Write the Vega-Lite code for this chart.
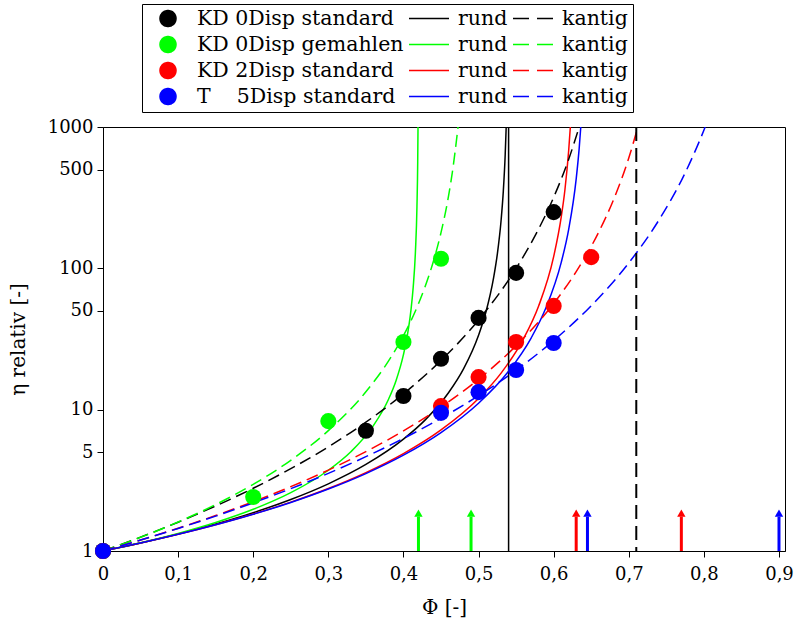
{
 "$schema": "https://vega.github.io/schema/vega-lite/v6.json",
 "width": 682, "height": 424,
 "autosize": {"type": "none"},
 "padding": {"left": 103, "top": 127, "right": 17, "bottom": 73},
 "background": "white",
 "config": {"view": {"stroke": "black", "strokeWidth": 1}, "font": "DejaVu Serif"},
 "datasets": {
  "pts": [
   {"s":"KD 0Disp standard","phi":0,"eta":1},{"s":"KD 0Disp standard","phi":0.35,"eta":7.1},{"s":"KD 0Disp standard","phi":0.4,"eta":12.5},{"s":"KD 0Disp standard","phi":0.45,"eta":22.9},{"s":"KD 0Disp standard","phi":0.5,"eta":44.6},{"s":"KD 0Disp standard","phi":0.55,"eta":92.8},{"s":"KD 0Disp standard","phi":0.6,"eta":250},
   {"s":"KD 0Disp gemahlen","phi":0,"eta":1},{"s":"KD 0Disp gemahlen","phi":0.2,"eta":2.41},{"s":"KD 0Disp gemahlen","phi":0.3,"eta":8.3},{"s":"KD 0Disp gemahlen","phi":0.4,"eta":30.1},{"s":"KD 0Disp gemahlen","phi":0.45,"eta":117},
   {"s":"KD 2Disp standard","phi":0,"eta":1},{"s":"KD 2Disp standard","phi":0.45,"eta":10.6},{"s":"KD 2Disp standard","phi":0.5,"eta":17.0},{"s":"KD 2Disp standard","phi":0.55,"eta":30.1},{"s":"KD 2Disp standard","phi":0.6,"eta":54.2},{"s":"KD 2Disp standard","phi":0.65,"eta":120},
   {"s":"T\u00a0\u00a0\u00a0\u00a05Disp standard","phi":0,"eta":1},{"s":"T\u00a0\u00a0\u00a0\u00a05Disp standard","phi":0.45,"eta":9.5},{"s":"T\u00a0\u00a0\u00a0\u00a05Disp standard","phi":0.5,"eta":13.3},{"s":"T\u00a0\u00a0\u00a0\u00a05Disp standard","phi":0.55,"eta":19.1},{"s":"T\u00a0\u00a0\u00a0\u00a05Disp standard","phi":0.6,"eta":29.6}
  ],
  "rund": [
   {"s":"KD 0Disp standard rund","phi":0,"eta":1},{"s":"KD 0Disp standard rund","phi":0.05,"eta":1.140},{"s":"KD 0Disp standard rund","phi":0.1,"eta":1.319},{"s":"KD 0Disp standard rund","phi":0.15,"eta":1.552},{"s":"KD 0Disp standard rund","phi":0.2,"eta":1.867},{"s":"KD 0Disp standard rund","phi":0.25,"eta":2.315},{"s":"KD 0Disp standard rund","phi":0.3,"eta":2.988},{"s":"KD 0Disp standard rund","phi":0.35,"eta":4.096},{"s":"KD 0Disp standard rund","phi":0.4,"eta":6.187},{"s":"KD 0Disp standard rund","phi":0.43,"eta":8.57},{"s":"KD 0Disp standard rund","phi":0.46,"eta":13.17},{"s":"KD 0Disp standard rund","phi":0.48,"eta":19.42},{"s":"KD 0Disp standard rund","phi":0.5,"eta":33.6},{"s":"KD 0Disp standard rund","phi":0.51,"eta":49.5},{"s":"KD 0Disp standard rund","phi":0.52,"eta":85.6},{"s":"KD 0Disp standard rund","phi":0.525,"eta":126.2},{"s":"KD 0Disp standard rund","phi":0.53,"eta":218},{"s":"KD 0Disp standard rund","phi":0.533,"eta":353},{"s":"KD 0Disp standard rund","phi":0.5355,"eta":641},{"s":"KD 0Disp standard rund","phi":0.5368,"eta":1000},
   {"s":"KD 0Disp gemahlen rund","phi":0,"eta":1},{"s":"KD 0Disp gemahlen rund","phi":0.05,"eta":1.142},{"s":"KD 0Disp gemahlen rund","phi":0.1,"eta":1.330},{"s":"KD 0Disp gemahlen rund","phi":0.15,"eta":1.590},{"s":"KD 0Disp gemahlen rund","phi":0.2,"eta":1.972},{"s":"KD 0Disp gemahlen rund","phi":0.25,"eta":2.585},{"s":"KD 0Disp gemahlen rund","phi":0.3,"eta":3.726},{"s":"KD 0Disp gemahlen rund","phi":0.33,"eta":5.04},{"s":"KD 0Disp gemahlen rund","phi":0.36,"eta":7.71},{"s":"KD 0Disp gemahlen rund","phi":0.38,"eta":11.81},{"s":"KD 0Disp gemahlen rund","phi":0.39,"eta":15.97},{"s":"KD 0Disp gemahlen rund","phi":0.4,"eta":24.5},{"s":"KD 0Disp gemahlen rund","phi":0.405,"eta":33.1},{"s":"KD 0Disp gemahlen rund","phi":0.41,"eta":50.6},{"s":"KD 0Disp gemahlen rund","phi":0.413,"eta":73.6},{"s":"KD 0Disp gemahlen rund","phi":0.416,"eta":132.6},{"s":"KD 0Disp gemahlen rund","phi":0.418,"eta":274},{"s":"KD 0Disp gemahlen rund","phi":0.419,"eta":568},{"s":"KD 0Disp gemahlen rund","phi":0.4194,"eta":1000},
   {"s":"KD 2Disp standard rund","phi":0,"eta":1},{"s":"KD 2Disp standard rund","phi":0.05,"eta":1.139},{"s":"KD 2Disp standard rund","phi":0.1,"eta":1.313},{"s":"KD 2Disp standard rund","phi":0.15,"eta":1.535},{"s":"KD 2Disp standard rund","phi":0.2,"eta":1.825},{"s":"KD 2Disp standard rund","phi":0.25,"eta":2.217},{"s":"KD 2Disp standard rund","phi":0.3,"eta":2.769},{"s":"KD 2Disp standard rund","phi":0.35,"eta":3.587},{"s":"KD 2Disp standard rund","phi":0.4,"eta":4.889},{"s":"KD 2Disp standard rund","phi":0.45,"eta":7.193},{"s":"KD 2Disp standard rund","phi":0.5,"eta":12.01},{"s":"KD 2Disp standard rund","phi":0.53,"eta":18.15},{"s":"KD 2Disp standard rund","phi":0.56,"eta":31.84},{"s":"KD 2Disp standard rund","phi":0.58,"eta":54.1},{"s":"KD 2Disp standard rund","phi":0.6,"eta":120.9},{"s":"KD 2Disp standard rund","phi":0.61,"eta":229},{"s":"KD 2Disp standard rund","phi":0.615,"eta":360},{"s":"KD 2Disp standard rund","phi":0.62,"eta":682},{"s":"KD 2Disp standard rund","phi":0.6222,"eta":1000},
   {"s":"T\u00a0\u00a0\u00a0\u00a05Disp standard rund","phi":0,"eta":1},{"s":"T\u00a0\u00a0\u00a0\u00a05Disp standard rund","phi":0.05,"eta":1.139},{"s":"T\u00a0\u00a0\u00a0\u00a05Disp standard rund","phi":0.1,"eta":1.312},{"s":"T\u00a0\u00a0\u00a0\u00a05Disp standard rund","phi":0.15,"eta":1.532},{"s":"T\u00a0\u00a0\u00a0\u00a05Disp standard rund","phi":0.2,"eta":1.819},{"s":"T\u00a0\u00a0\u00a0\u00a05Disp standard rund","phi":0.25,"eta":2.205},{"s":"T\u00a0\u00a0\u00a0\u00a05Disp standard rund","phi":0.3,"eta":2.743},{"s":"T\u00a0\u00a0\u00a0\u00a05Disp standard rund","phi":0.35,"eta":3.530},{"s":"T\u00a0\u00a0\u00a0\u00a05Disp standard rund","phi":0.4,"eta":4.763},{"s":"T\u00a0\u00a0\u00a0\u00a05Disp standard rund","phi":0.45,"eta":6.882},{"s":"T\u00a0\u00a0\u00a0\u00a05Disp standard rund","phi":0.5,"eta":11.10},{"s":"T\u00a0\u00a0\u00a0\u00a05Disp standard rund","phi":0.54,"eta":18.68},{"s":"T\u00a0\u00a0\u00a0\u00a05Disp standard rund","phi":0.57,"eta":32.13},{"s":"T\u00a0\u00a0\u00a0\u00a05Disp standard rund","phi":0.59,"eta":52.98},{"s":"T\u00a0\u00a0\u00a0\u00a05Disp standard rund","phi":0.61,"eta":109.8},{"s":"T\u00a0\u00a0\u00a0\u00a05Disp standard rund","phi":0.62,"eta":188.9},{"s":"T\u00a0\u00a0\u00a0\u00a05Disp standard rund","phi":0.63,"eta":430},{"s":"T\u00a0\u00a0\u00a0\u00a05Disp standard rund","phi":0.634,"eta":709},{"s":"T\u00a0\u00a0\u00a0\u00a05Disp standard rund","phi":0.6361,"eta":1000}
  ],
  "kantig": [
   {"s":"KD 0Disp standard kantig","phi":0,"eta":1},{"s":"KD 0Disp standard kantig","phi":0.05,"eta":1.253},{"s":"KD 0Disp standard kantig","phi":0.1,"eta":1.599},{"s":"KD 0Disp standard kantig","phi":0.15,"eta":2.082},{"s":"KD 0Disp standard kantig","phi":0.2,"eta":2.779},{"s":"KD 0Disp standard kantig","phi":0.25,"eta":3.823},{"s":"KD 0Disp standard kantig","phi":0.3,"eta":5.456},{"s":"KD 0Disp standard kantig","phi":0.35,"eta":8.155},{"s":"KD 0Disp standard kantig","phi":0.4,"eta":12.94},{"s":"KD 0Disp standard kantig","phi":0.45,"eta":22.29},{"s":"KD 0Disp standard kantig","phi":0.5,"eta":43.1},{"s":"KD 0Disp standard kantig","phi":0.55,"eta":99.9},{"s":"KD 0Disp standard kantig","phi":0.58,"eta":190},{"s":"KD 0Disp standard kantig","phi":0.6,"eta":318},{"s":"KD 0Disp standard kantig","phi":0.62,"eta":591},{"s":"KD 0Disp standard kantig","phi":0.634,"eta":1000},
   {"s":"KD 0Disp gemahlen kantig","phi":0,"eta":1},{"s":"KD 0Disp gemahlen kantig","phi":0.05,"eta":1.250},{"s":"KD 0Disp gemahlen kantig","phi":0.1,"eta":1.604},{"s":"KD 0Disp gemahlen kantig","phi":0.15,"eta":2.131},{"s":"KD 0Disp gemahlen kantig","phi":0.2,"eta":2.962},{"s":"KD 0Disp gemahlen kantig","phi":0.25,"eta":4.382},{"s":"KD 0Disp gemahlen kantig","phi":0.3,"eta":7.107},{"s":"KD 0Disp gemahlen kantig","phi":0.35,"eta":13.37},{"s":"KD 0Disp gemahlen kantig","phi":0.38,"eta":22.03},{"s":"KD 0Disp gemahlen kantig","phi":0.4,"eta":33.4},{"s":"KD 0Disp gemahlen kantig","phi":0.42,"eta":56.2},{"s":"KD 0Disp gemahlen kantig","phi":0.44,"eta":112.7},{"s":"KD 0Disp gemahlen kantig","phi":0.45,"eta":178.8},{"s":"KD 0Disp gemahlen kantig","phi":0.46,"eta":324},{"s":"KD 0Disp gemahlen kantig","phi":0.465,"eta":473},{"s":"KD 0Disp gemahlen kantig","phi":0.4727,"eta":1000},
   {"s":"KD 2Disp standard kantig","phi":0,"eta":1},{"s":"KD 2Disp standard kantig","phi":0.05,"eta":1.196},{"s":"KD 2Disp standard kantig","phi":0.1,"eta":1.450},{"s":"KD 2Disp standard kantig","phi":0.15,"eta":1.783},{"s":"KD 2Disp standard kantig","phi":0.2,"eta":2.232},{"s":"KD 2Disp standard kantig","phi":0.25,"eta":2.852},{"s":"KD 2Disp standard kantig","phi":0.3,"eta":3.736},{"s":"KD 2Disp standard kantig","phi":0.35,"eta":5.045},{"s":"KD 2Disp standard kantig","phi":0.4,"eta":7.077},{"s":"KD 2Disp standard kantig","phi":0.45,"eta":10.43},{"s":"KD 2Disp standard kantig","phi":0.5,"eta":16.41},{"s":"KD 2Disp standard kantig","phi":0.55,"eta":28.36},{"s":"KD 2Disp standard kantig","phi":0.6,"eta":56.4},{"s":"KD 2Disp standard kantig","phi":0.63,"eta":94.8},{"s":"KD 2Disp standard kantig","phi":0.66,"eta":180.5},{"s":"KD 2Disp standard kantig","phi":0.68,"eta":308.6},{"s":"KD 2Disp standard kantig","phi":0.7,"eta":603},{"s":"KD 2Disp standard kantig","phi":0.7121,"eta":1000},
   {"s":"T\u00a0\u00a0\u00a0\u00a05Disp standard kantig","phi":0,"eta":1},{"s":"T\u00a0\u00a0\u00a0\u00a05Disp standard kantig","phi":0.05,"eta":1.195},{"s":"T\u00a0\u00a0\u00a0\u00a05Disp standard kantig","phi":0.1,"eta":1.444},{"s":"T\u00a0\u00a0\u00a0\u00a05Disp standard kantig","phi":0.15,"eta":1.766},{"s":"T\u00a0\u00a0\u00a0\u00a05Disp standard kantig","phi":0.2,"eta":2.191},{"s":"T\u00a0\u00a0\u00a0\u00a05Disp standard kantig","phi":0.25,"eta":2.760},{"s":"T\u00a0\u00a0\u00a0\u00a05Disp standard kantig","phi":0.3,"eta":3.543},{"s":"T\u00a0\u00a0\u00a0\u00a05Disp standard kantig","phi":0.35,"eta":4.649},{"s":"T\u00a0\u00a0\u00a0\u00a05Disp standard kantig","phi":0.4,"eta":6.258},{"s":"T\u00a0\u00a0\u00a0\u00a05Disp standard kantig","phi":0.45,"eta":8.694},{"s":"T\u00a0\u00a0\u00a0\u00a05Disp standard kantig","phi":0.5,"eta":12.55},{"s":"T\u00a0\u00a0\u00a0\u00a05Disp standard kantig","phi":0.55,"eta":19.04},{"s":"T\u00a0\u00a0\u00a0\u00a05Disp standard kantig","phi":0.6,"eta":30.81},{"s":"T\u00a0\u00a0\u00a0\u00a05Disp standard kantig","phi":0.65,"eta":54.4},{"s":"T\u00a0\u00a0\u00a0\u00a05Disp standard kantig","phi":0.7,"eta":109.1},{"s":"T\u00a0\u00a0\u00a0\u00a05Disp standard kantig","phi":0.74,"eta":219},{"s":"T\u00a0\u00a0\u00a0\u00a05Disp standard kantig","phi":0.77,"eta":418},{"s":"T\u00a0\u00a0\u00a0\u00a05Disp standard kantig","phi":0.8,"eta":949},{"s":"T\u00a0\u00a0\u00a0\u00a05Disp standard kantig","phi":0.8017,"eta":1000}
  ],
  "arrows": [
   {"s":"KD 0Disp gemahlen","phi":0.42},{"s":"KD 0Disp gemahlen","phi":0.49},
   {"s":"KD 2Disp standard","phi":0.63},{"s":"KD 2Disp standard","phi":0.77},
   {"s":"T\u00a0\u00a0\u00a0\u00a05Disp standard","phi":0.645},{"s":"T\u00a0\u00a0\u00a0\u00a05Disp standard","phi":0.9}
  ],
  "vsolid": [{"s":"KD 0Disp standard rund","phi":0.54}],
  "vdash": [{"s":"KD 0Disp standard kantig","phi":0.71}]
 },
 "layer": [
  {
   "data": {"name": "rund"},
   "mark": {"type": "line", "strokeWidth": 1.5, "interpolate": "monotone", "clip": true},
   "encoding": {
    "x": {"field": "phi", "type": "quantitative",
      "scale": {"domain": [0, 0.908], "nice": false, "zero": false},
      "axis": {"title": "Φ [-]", "values": [0,0.1,0.2,0.3,0.4,0.5,0.6,0.7,0.8,0.9],
        "labelExpr": "replace(format(datum.value, '.1~f'), '.', ',')",
        "grid": false, "tickSize": 6, "tickColor": "black", "domainColor": "black", "labelColor": "black",
        "labelFont": "DejaVu Serif", "labelFontSize": 18, "labelPadding": 8, "labelFlush": false, "labelOverlap": false,
        "titleFont": "DejaVu Serif", "titleFontSize": 20, "titleFontWeight": "normal", "titleColor": "black", "titlePadding": 14}},
    "y": {"field": "eta", "type": "quantitative",
      "scale": {"type": "log", "domain": [1, 1000], "nice": false},
      "axis": {"title": "η relativ [-]", "values": [1,5,10,50,100,500,1000], "format": "d",
        "grid": false, "tickSize": 6, "tickColor": "black", "domainColor": "black", "labelColor": "black",
        "labelFont": "DejaVu Serif", "labelFontSize": 18, "labelPadding": 4, "labelFlush": false, "labelOverlap": false,
        "titleFont": "DejaVu Serif", "titleFontSize": 20, "titleFontWeight": "normal", "titleColor": "black", "titlePadding": 19}},
    "color": {"field": "s", "type": "nominal",
      "scale": {"domain": [
        "KD 0Disp standard","KD 0Disp gemahlen","KD 2Disp standard","T\u00a0\u00a0\u00a0\u00a05Disp standard",
        "KD 0Disp standard rund","KD 0Disp gemahlen rund","KD 2Disp standard rund","T\u00a0\u00a0\u00a0\u00a05Disp standard rund",
        "KD 0Disp standard kantig","KD 0Disp gemahlen kantig","KD 2Disp standard kantig","T\u00a0\u00a0\u00a0\u00a05Disp standard kantig"],
       "range": ["#000000","#00ff00","#ff0000","#0000ff","#000000","#00ff00","#ff0000","#0000ff","#000000","#00ff00","#ff0000","#0000ff"]},
      "legend": {
        "title": null, "orient": "none", "legendX": 39, "legendY": -123,
        "columns": 3, "symbolSize": 1600, "symbolStrokeWidth": 1.5,
        "symbolType": {"expr": "indexof(datum.value, ' rund') > 0 || indexof(datum.value, ' kantig') > 0 ? 'stroke' : 'M -0.4 0 A 0.4 0.4 0 1 0 0.4 0 A 0.4 0.4 0 1 0 -0.4 0 Z'"},
        "symbolFillColor": {"expr": "indexof(datum.value, ' rund') > 0 || indexof(datum.value, ' kantig') > 0 ? 'transparent' : scale('color', datum.value)"},
        "symbolDash": {"expr": "indexof(datum.value, ' kantig') > 0 ? [16, 8] : [1, 0]"},
        "clipHeight": 19, "rowPadding": 5, "columnPadding": 4, "padding": 5,
        "strokeColor": "black", "fillColor": "white",
        "labelFont": "DejaVu Serif", "labelFontSize": 20.5, "labelColor": "black", "labelOffset": 8, "labelLimit": 400,
        "labelExpr": "indexof(datum.value, ' rund') > 0 ? 'rund' : (indexof(datum.value, ' kantig') > 0 ? 'kantig' : datum.value)"
      }}
   }
  },
  {
   "data": {"name": "kantig"},
   "mark": {"type": "line", "strokeWidth": 1.5, "strokeDash": [12, 6], "interpolate": "monotone", "clip": true},
   "encoding": {
    "x": {"field": "phi", "type": "quantitative"},
    "y": {"field": "eta", "type": "quantitative"},
    "color": {"field": "s", "type": "nominal"}
   }
  },
  {
   "data": {"name": "vsolid"},
   "mark": {"type": "rule", "strokeWidth": 1.5},
   "encoding": {
    "x": {"field": "phi", "type": "quantitative"},
    "color": {"field": "s", "type": "nominal"}
   }
  },
  {
   "data": {"name": "vdash"},
   "mark": {"type": "rule", "strokeWidth": 2, "strokeDash": [14, 7]},
   "encoding": {
    "x": {"field": "phi", "type": "quantitative"},
    "color": {"field": "s", "type": "nominal"}
   }
  },
  {
   "data": {"name": "arrows"},
   "mark": {"type": "rule", "strokeWidth": 3},
   "encoding": {
    "x": {"field": "phi", "type": "quantitative"},
    "y": {"datum": 1, "type": "quantitative"},
    "y2": {"datum": 1.75},
    "color": {"field": "s", "type": "nominal"}
   }
  },
  {
   "data": {"name": "arrows"},
   "mark": {"type": "point", "shape": "triangle-up", "filled": true, "size": 70, "opacity": 1},
   "encoding": {
    "x": {"field": "phi", "type": "quantitative"},
    "y": {"datum": 1.85, "type": "quantitative"},
    "color": {"field": "s", "type": "nominal"}
   }
  },
  {
   "data": {"name": "pts"},
   "mark": {"type": "point", "shape": "circle", "filled": true, "size": 260, "opacity": 1},
   "encoding": {
    "x": {"field": "phi", "type": "quantitative"},
    "y": {"field": "eta", "type": "quantitative"},
    "color": {"field": "s", "type": "nominal"}
   }
  }
 ]
}
